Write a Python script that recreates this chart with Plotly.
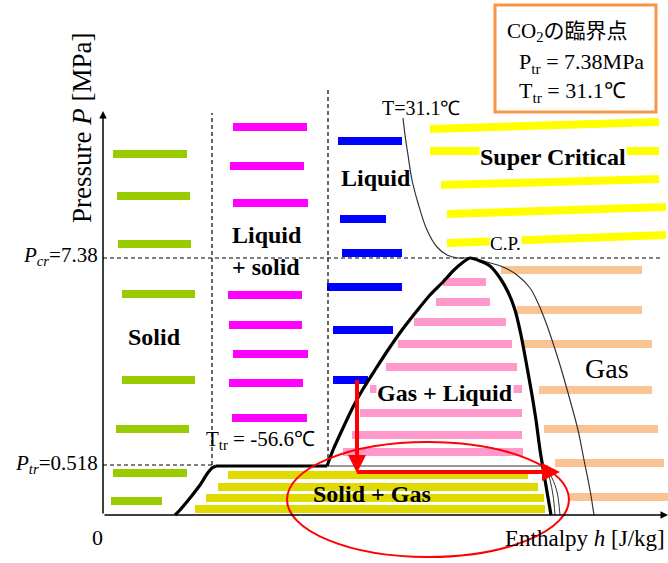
import plotly.graph_objects as go

# Schematic units: h = enthalpy (arbitrary), P = pressure (arbitrary)
# ---- region bars (level P, start h0, end h1) ----
green_P = [361, 319, 271, 221, 135, 86, 42, 14]
green_h0 = [10, 14, 15, 19, 19, 13, 10, 8]
green_h1 = [84, 87, 88, 92, 92, 86, 84, 59]

magenta_P = [388, 349, 312, 220, 190, 161, 132, 97]
magenta_h0 = [130, 127, 130, 125, 126, 130, 126, 129]
magenta_h1 = [204, 201, 205, 199, 199, 205, 200, 204]

blue_P = [374, 296, 262, 228, 185, 135]
blue_h0 = [235, 237, 239, 224, 230, 230]
blue_h1 = [299, 283, 299, 299, 290, 265]

super_h0 = [327, 327, 338, 344, 344]
super_P0 = [386, 364, 330, 301, 272]
super_h1 = [556, 556, 556, 563, 563]
super_P1 = [393, 364, 336, 308, 280]

peach_P = [245, 205, 171, 125, 86, 52, 18]
peach_h0 = [398, 414, 420, 436, 441, 452, 467]
peach_h1 = [539, 539, 549, 549, 555, 561, 565]

pink_P = [233, 213, 193, 171, 148, 126, 102, 80, 63]
pink_h0 = [340, 333, 311, 295, 283, 267, 257, 249, 240]
pink_h1 = [383, 387, 403, 409, 414, 419, 419, 419, 420]

olive_P = [40, 28, 17, 6]
olive_h0 = [125, 115, 103, 92]
olive_h1 = [425, 435, 441, 442]

# ---- curves ----
sub_h = [72, 77, 87, 97, 104, 109, 113]          # sublimation curve
sub_P = [0, 5, 17, 30, 41, 47, 49]
triple_h = [113, 224]                              # triple line
dome_h = [224, 230, 240, 250, 260, 272, 285, 299, 313, 327, 340, 350, 359, 367,
          377, 387, 397, 405, 412, 418, 424, 429, 433, 437, 442, 448]
dome_P = [49, 65, 87, 108, 126, 145, 165, 185, 203, 220, 233, 244, 252, 257,
          254, 249, 237, 223, 205, 180, 148, 120, 95, 65, 35, 0]

iso_h = [300, 302, 305, 309, 315, 324, 334, 344, 355, 367, 384, 400, 414, 427, 435,
         442, 449, 457, 467, 475, 481, 487, 491]
iso_P = [397, 380, 360, 335, 312, 285, 268, 260, 257, 257, 253, 248, 240, 227, 212,
         195, 175, 150, 115, 85, 55, 25, 0]

arc1_h = [442, 449, 454, 457]
arc1_P = [48, 37, 23, 0]
arc2_h = [443, 447, 450, 452]
arc2_P = [48, 35, 20, 0]

P_cr = 257
P_tr = 50
h_div1 = 109
h_div2 = 225
h_triple_end = 445
h_max = 565
P_max = 402

# red process arrows
proc_h = [254, 254, 457]
proc_P = [135, 43, 43]

SERIF = "Liberation Serif, Times New Roman, serif"
JP = "Liberation Serif, Noto Sans CJK JP, serif"


def segs(h0, h1, p0, p1):
    xs, ys = [], []
    for a, b, c, d in zip(h0, h1, p0, p1):
        xs += [a, b, None]
        ys += [c, d, None]
    return xs, ys


fig = go.Figure()


def add_line(xs, ys, color, width, **kw):
    fig.add_trace(go.Scatter(x=xs, y=ys, mode="lines", line=dict(color=color, width=width, **kw),
                             hoverinfo="skip", showlegend=False))


def add_bars(h0, h1, p0, p1, color, width=8):
    xs, ys = segs(h0, h1, p0, p1)
    add_line(xs, ys, color, width)


add_bars(green_h0, green_h1, green_P, green_P, "#99cc00")
add_bars(magenta_h0, magenta_h1, magenta_P, magenta_P, "#ff00ff")
add_bars(blue_h0, blue_h1, blue_P, blue_P, "#0000ff")
add_bars(super_h0, super_h1, super_P0, super_P1, "#ffff00")
add_bars(peach_h0, peach_h1, peach_P, peach_P, "#fac394")
add_bars(pink_h0, pink_h1, pink_P, pink_P, "#ff99cc")
add_bars(olive_h0, olive_h1, olive_P, olive_P, "#e0da00")

# dashed guide lines
add_line([0, 557], [P_cr, P_cr], "black", 1.2, dash="4px,3px")
add_line([0, h_div1], [P_tr, P_tr], "black", 1.2, dash="4px,3px")
add_line([h_div1, h_div1], [P_tr, P_max], "black", 1.2, dash="4px,3px")
add_line([h_div2, h_div2], [P_tr, 425], "black", 1.2, dash="4px,3px")

# thin lines
add_line(iso_h, iso_P, "#333333", 1.2, shape="spline")
add_line([triple_h[1], h_triple_end], [P_tr - 1, P_tr - 1], "#333333", 1)
add_line(arc1_h, arc1_P, "#333333", 1, shape="spline")
add_line(arc2_h, arc2_P, "#333333", 1, shape="spline")

# saturation dome, triple line, sublimation curve
add_line(sub_h, sub_P, "black", 3.2, shape="spline", smoothing=0.6)
add_line(triple_h, [sub_P[-1], sub_P[-1]], "black", 3.2)
add_line(dome_h, dome_P, "black", 3.2, shape="spline", smoothing=0.6)

# red process line (vertical then horizontal)
add_line(proc_h[:2], [proc_P[0], proc_P[1] + 6], "#ff0000", 4)
add_line([proc_h[1], proc_h[2] - 8], proc_P[1:], "#ff0000", 4)

anns = []
# arrowheads for red line
anns.append(dict(x=proc_h[1], y=proc_P[1] - 1, ax=proc_h[1], ay=proc_P[1] + 20, xref="x", yref="y",
                 axref="x", ayref="y", showarrow=True, arrowhead=2, arrowsize=0.9, arrowwidth=4,
                 arrowcolor="#ff0000", text=""))
anns.append(dict(x=proc_h[2], y=proc_P[2], ax=proc_h[2] - 20, ay=proc_P[2], xref="x", yref="y",
                 axref="x", ayref="y", showarrow=True, arrowhead=2, arrowsize=0.9, arrowwidth=4,
                 arrowcolor="#ff0000", text=""))
# axes arrows
anns.append(dict(x=0, y=P_max + 2, ax=0, ay=0, xref="x", yref="y", axref="x", ayref="y",
                 showarrow=True, arrowhead=2, arrowsize=1, arrowwidth=1.5, arrowcolor="black", text=""))
anns.append(dict(x=h_max, y=0, ax=0, ay=0, xref="x", yref="y", axref="x", ayref="y",
                 showarrow=True, arrowhead=2, arrowsize=1, arrowwidth=1.5, arrowcolor="black", text=""))


def label(x, y, text, size=22, bold=False, xanchor="center", bg=None, family=SERIF, angle=0):
    t = f"<b>{text}</b>" if bold else text
    d = dict(x=x, y=y, xref="x", yref="y", text=t, showarrow=False, xanchor=xanchor, yanchor="middle",
             font=dict(family=family, size=size, color="black"), textangle=angle)
    if bg:
        d.update(bgcolor=bg, borderpad=0)
    anns.append(d)


label(51, 178, "Solid", 24, True)
label(164, 280, "Liquid", 24, True)
label(163, 248, "+ solid", 24, True)
label(273, 337, "Liquid", 24, True)
label(450, 358, "Super Critical", 24, True, bg="white")
label(402, 272, "C.P.", 19, bg="white")
label(318, 407, "T=31.1℃", 20)
label(504, 147, "Gas", 28)
label(342, 122, "Gas + Liquid", 24, True, bg="white")
label(157, 75, "T<sub>tr</sub> = -56.6℃", 21)
label(269, 21, "Solid + Gas", 24, True)
label(-3, P_cr + 2, "<i>P</i><sub><i>cr</i></sub>=7.38", 21, xanchor="right")
label(-3, P_tr + 1, "<i>P</i><sub><i>tr</i></sub>=0.518", 21, xanchor="right")
label(-6, -22, "0", 22)
label(564, -23, "Enthalpy <i>h</i> [J/kg]", 23, xanchor="right")
label(-21, 387, "Pressure <i>P</i> [MPa]", 27, angle=-90)

# critical point info box text
label(402, 483, "CO<sub>2</sub>の臨界点", 21, xanchor="left", family=JP)
label(414, 452, "P<sub>tr</sub> = 7.38MPa", 22, xanchor="left")
label(414, 423, "T<sub>tr</sub> = 31.1℃", 22, xanchor="left")

shapes = [
    dict(type="rect", xref="x", yref="y", x0=392, x1=553, y0=403, y1=510,
         line=dict(color="#f79646", width=3), fillcolor="white", layer="above"),
    dict(type="circle", xref="x", yref="y", x0=184, x1=466, y0=-42, y1=73,
         line=dict(color="#ff0000", width=2), layer="above"),
]

fig.update_layout(
    width=668, height=563,
    margin=dict(l=0, r=0, t=0, b=0),
    paper_bgcolor="white", plot_bgcolor="white",
    xaxis=dict(range=[-103, 565], visible=False, fixedrange=True),
    yaxis=dict(range=[-48, 515], visible=False, fixedrange=True),
    annotations=anns, shapes=shapes, showlegend=False,
)

fig.write_html("out.html", config={"displayModeBar": False},
               post_script="document.body.style.margin='0';document.body.style.overflow='hidden';")
